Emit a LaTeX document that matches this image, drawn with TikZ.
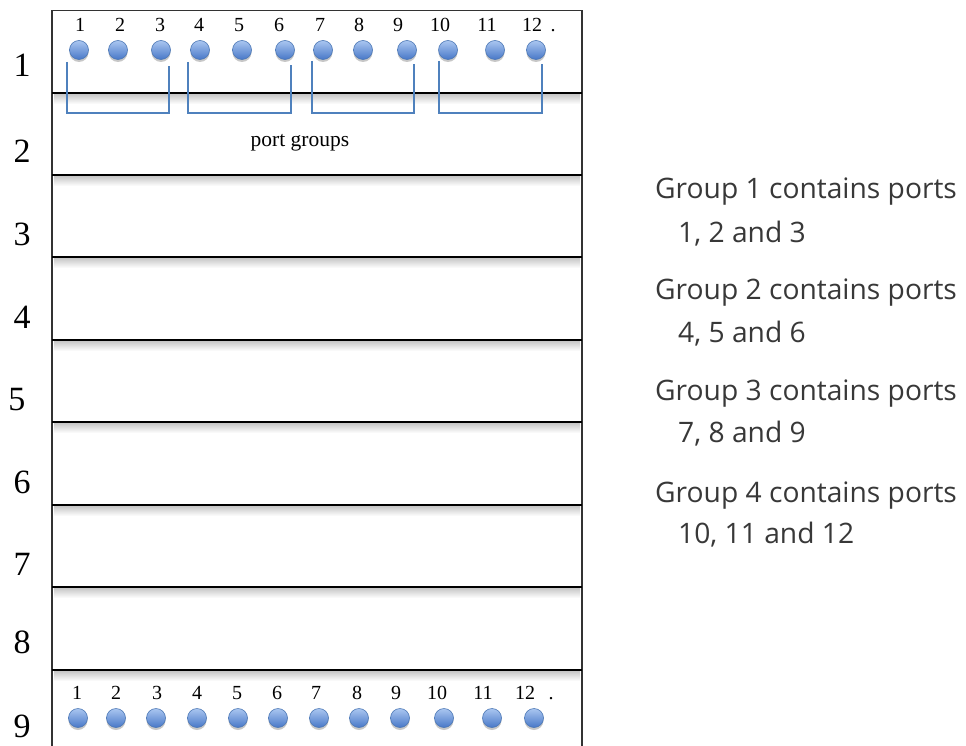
\documentclass[tikz,border=0pt]{standalone}
\usepackage{fontspec}
\setmainfont{Liberation Serif}
\newfontfamily\notefont{Open Sans}
\usetikzlibrary{shadows}
\definecolor{bracketblue}{RGB}{79,129,189}
\definecolor{porttop}{RGB}{170,198,240}
\definecolor{portbot}{RGB}{72,120,200}
\definecolor{portedge}{RGB}{74,118,180}
\tikzset{
  rowlabel/.style={anchor=base, inner sep=0pt, font=\fontsize{34}{38}\selectfont},
  portnum/.style={anchor=base, inner sep=0pt, font=\fontsize{20}{22}\selectfont},
  port/.style={circle, minimum size=19pt, inner sep=0pt, draw=portedge, line width=0.6pt,
    top color=porttop, bottom color=portbot,
    drop shadow={shadow xshift=0pt, shadow yshift=-2.5pt, opacity=0.22, fill=black}},
  bracket/.style={draw=bracketblue, line width=2.8pt, line cap=butt, line join=miter},
  divider/.style={draw=black, line width=1.8pt},
  frameline/.style={draw=black!80, line width=1.1pt},
  note/.style={anchor=base west, inner sep=0pt, font=\notefont\fontsize{28.2}{31}\selectfont, text=black!78},
}
\begin{document}
\begin{tikzpicture}[x=1pt,y=-1pt]
\useasboundingbox (0,0) rectangle (966,746);

% soft shadows under the shelf dividers
\foreach \y in {93,175,257,340,422,505,587,670}{
  \shade[top color=black!22, bottom color=white] (54,\y+1) rectangle (580,\y+11);
}

% frame of the rack
\coordinate (ftl) at (52,10.5);
\coordinate (ftr) at (582,10.5);
\coordinate (fbl) at (52,746);
\coordinate (fbr) at (582,746);
\draw[frameline] (fbl) -- (ftl) -- (ftr) -- (fbr);

% shelf dividers
\foreach \y in {93,175,257,340,422,505,587,670}{
  \draw[divider] (52,\y) -- (582,\y);
}

% rack unit numbers
\foreach \n/\x/\y in {1/22/77,2/22/163,3/22/245,4/22/328,5/17/410,6/22/493,7/22/575,8/22/653,9/22/737}{
  \node[rowlabel] (u\n) at (\x,\y) {\n};
}

% port groups (brackets under the top ports)
\foreach \g/\l/\r/\lt/\rt in {1/67/169/62/66,2/188/291/62/65,3/312/414/61/64,4/439/542/61/64}{
  \coordinate (g\g a) at (\l,\lt);
  \coordinate (g\g b) at (\l,113);
  \coordinate (g\g c) at (\r,113);
  \coordinate (g\g d) at (\r,\rt);
  \draw[bracket] (g\g a) -- (g\g b) -- (g\g c) -- (g\g d);
}
\node[anchor=base, inner sep=0pt, font=\fontsize{21.5}{24}\selectfont] (pg) at (300,147) {port groups};

% top row of ports
\foreach \n/\cx/\lx in {1/79/80,2/118/120,3/161/160,4/200/199,5/242/239,6/285/279,7/323/320,8/363/359,9/407/398,10/448/440,11/495/487,12/536/532}{
  \node[port] (t\n) at (\cx,50) {};
  \node[portnum] (tl\n) at (\lx,32) {\n};
}
\node[portnum] (tdot) at (553,32) {.};

% bottom row of ports
\foreach \n/\cx/\lx in {1/78/77,2/116/116,3/156/157,4/197/197,5/238/237,6/278/277,7/319/316,8/359/357,9/400/396,10/444/437,11/492/483,12/534/525}{
  \node[port] (b\n) at (\cx,718) {};
  \node[portnum] (bl\n) at (\lx,699) {\n};
}
\node[portnum] (bdot) at (551,699) {.};

% group descriptions
\node[note] (n1a) at (655,199) {Group 1 contains ports};
\node[note] (n1b) at (678,242) {1, 2 and 3};
\node[note] (n2a) at (655,299) {Group 2 contains ports};
\node[note] (n2b) at (678,342) {4, 5 and 6};
\node[note] (n3a) at (655,400) {Group 3 contains ports};
\node[note] (n3b) at (678,442) {7, 8 and 9};
\node[note] (n4a) at (655,502) {Group 4 contains ports};
\node[note] (n4b) at (678,543) {10, 11 and 12};
\end{tikzpicture}
\end{document}
